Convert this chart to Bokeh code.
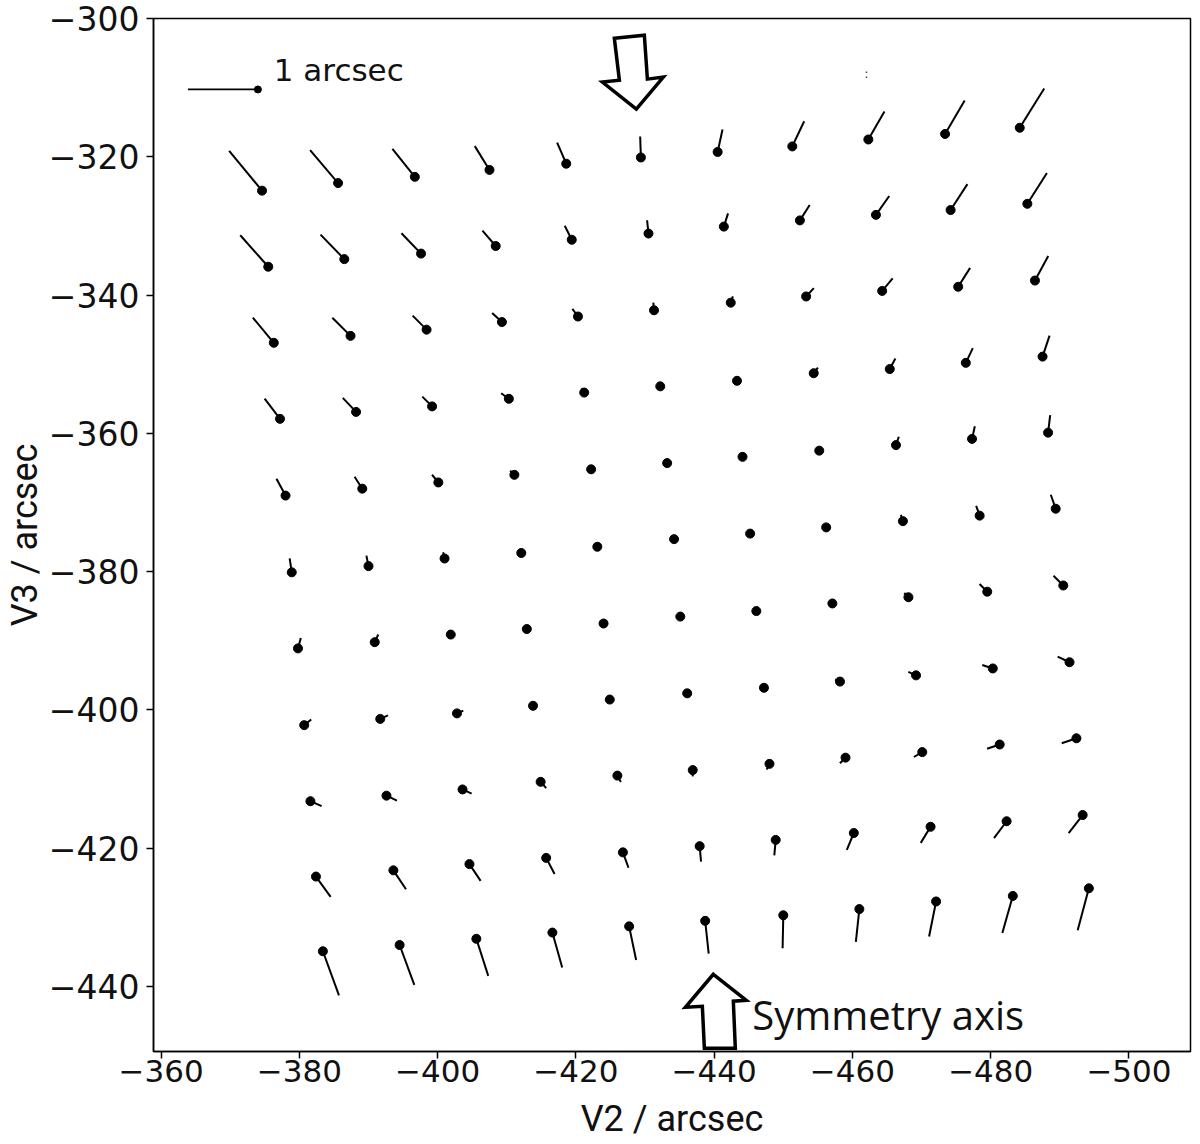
import numpy as np
from bokeh.plotting import figure
from bokeh.models import Range1d, FixedTicker, Label, CustomJSTickFormatter
from bokeh.embed import file_html
from bokeh.resources import INLINE

# ---------------- data ----------------
# dot positions: V2 (arcsec), rows from top to bottom, 11 columns each
V2_ROWS = [
    [-374.6, -385.6, -396.7, -407.5, -418.6, -429.4, -440.5, -451.3, -462.3, -473.4, -484.2],
    [-375.5, -386.5, -397.6, -408.4, -419.4, -430.5, -441.4, -452.4, -463.4, -474.2, -485.3],
    [-376.3, -387.4, -398.4, -409.3, -420.3, -431.3, -442.4, -453.3, -464.3, -475.3, -486.4],
    [-377.2, -388.2, -399.2, -410.3, -421.2, -432.2, -443.3, -454.4, -465.4, -476.4, -487.5],
    [-378.0, -389.1, -400.1, -411.1, -422.2, -433.2, -444.1, -455.2, -466.3, -477.3, -488.3],
    [-378.9, -390.0, -401.0, -412.1, -423.1, -434.2, -445.2, -456.2, -467.3, -478.4, -489.4],
    [-379.8, -390.9, -401.9, -412.9, -424.0, -435.1, -446.1, -457.1, -468.1, -479.5, -490.5],
    [-380.7, -391.7, -402.8, -413.8, -424.9, -436.1, -447.2, -458.2, -469.2, -480.3, -491.4],
    [-381.6, -392.6, -403.6, -414.9, -426.0, -436.9, -448.0, -459.0, -470.1, -481.3, -492.4],
    [-382.4, -393.6, -404.6, -415.7, -426.8, -437.9, -448.9, -460.2, -471.3, -482.3, -493.3],
    [-383.4, -394.5, -405.6, -416.6, -427.7, -438.7, -450.0, -461.0, -472.1, -483.2, -494.2],
]
# dot positions: V3 (arcsec)
V3_ROWS = [
    [-324.9, -323.8, -322.9, -321.9, -321.0, -320.1, -319.3, -318.5, -317.5, -316.7, -315.8],
    [-335.9, -334.8, -334.0, -332.9, -332.0, -331.1, -330.1, -329.2, -328.4, -327.7, -326.8],
    [-346.9, -345.9, -345.0, -343.9, -343.1, -342.2, -341.1, -340.2, -339.4, -338.8, -337.9],
    [-357.9, -356.9, -356.1, -355.0, -354.1, -353.2, -352.4, -351.3, -350.7, -349.8, -348.9],
    [-369.0, -368.0, -367.1, -366.0, -365.2, -364.3, -363.4, -362.5, -361.7, -360.8, -359.9],
    [-380.1, -379.2, -378.1, -377.3, -376.4, -375.3, -374.5, -373.6, -372.7, -371.9, -370.9],
    [-391.1, -390.2, -389.1, -388.3, -387.5, -386.5, -385.7, -384.6, -383.7, -382.9, -382.0],
    [-402.2, -401.3, -400.5, -399.4, -398.5, -397.6, -396.8, -395.9, -395.0, -394.0, -393.1],
    [-413.2, -412.4, -411.5, -410.4, -409.5, -408.7, -407.8, -406.9, -406.1, -405.0, -404.1],
    [-424.1, -423.2, -422.3, -421.4, -420.6, -419.7, -418.8, -417.8, -416.9, -416.1, -415.2],
    [-434.9, -434.0, -433.1, -432.2, -431.3, -430.5, -429.7, -428.8, -427.7, -426.9, -425.8],
]
# distortion vectors, V2 component (arcsec)
DV2_ROWS = [
    [0.47, 0.40, 0.32, 0.21, 0.13, 0.01, -0.07, -0.17, -0.23, -0.28, -0.35],
    [0.40, 0.34, 0.28, 0.19, 0.10, 0.02, -0.06, -0.14, -0.19, -0.24, -0.28],
    [0.30, 0.26, 0.20, 0.14, 0.08, 0.01, -0.03, -0.11, -0.15, -0.17, -0.19],
    [0.22, 0.19, 0.14, 0.11, 0.04, 0.00, -0.02, -0.06, -0.08, -0.10, -0.10],
    [0.13, 0.11, 0.09, 0.06, 0.01, 0.00, 0.00, -0.02, -0.04, -0.04, -0.03],
    [0.03, 0.03, 0.02, 0.00, 0.00, 0.00, 0.00, 0.00, 0.03, 0.05, 0.07],
    [-0.04, -0.05, -0.01, 0.00, 0.00, 0.00, 0.00, 0.01, 0.06, 0.11, 0.14],
    [-0.10, -0.11, -0.09, -0.02, 0.00, 0.00, 0.00, 0.07, 0.11, 0.15, 0.17],
    [-0.16, -0.15, -0.13, -0.08, -0.05, 0.00, 0.04, 0.08, 0.12, 0.18, 0.21],
    [-0.21, -0.18, -0.16, -0.12, -0.08, -0.02, 0.02, 0.10, 0.14, 0.18, 0.20],
    [-0.23, -0.21, -0.17, -0.14, -0.10, -0.05, 0.01, 0.05, 0.10, 0.15, 0.16],
]
# distortion vectors, V3 component (arcsec)
DV3_ROWS = [
    [0.57, 0.47, 0.40, 0.34, 0.30, 0.30, 0.32, 0.36, 0.40, 0.48, 0.56],
    [0.45, 0.35, 0.29, 0.22, 0.20, 0.19, 0.19, 0.22, 0.27, 0.37, 0.44],
    [0.36, 0.26, 0.20, 0.13, 0.11, 0.11, 0.09, 0.12, 0.18, 0.27, 0.35],
    [0.29, 0.20, 0.14, 0.08, 0.06, 0.02, 0.06, 0.08, 0.15, 0.21, 0.30],
    [0.24, 0.17, 0.11, 0.06, 0.01, 0.00, 0.00, 0.06, 0.12, 0.18, 0.25],
    [0.20, 0.15, 0.09, 0.01, 0.00, 0.00, 0.00, -0.01, 0.09, 0.14, 0.20],
    [0.15, 0.11, 0.01, 0.00, 0.00, 0.00, 0.00, 0.01, 0.06, 0.11, 0.14],
    [0.08, 0.05, 0.04, 0.01, 0.00, 0.00, 0.00, 0.03, 0.05, 0.05, 0.08],
    [-0.07, -0.07, -0.06, -0.09, -0.09, -0.09, -0.08, -0.08, -0.07, -0.06, -0.07],
    [-0.29, -0.27, -0.24, -0.23, -0.22, -0.22, -0.22, -0.24, -0.23, -0.24, -0.26],
    [-0.63, -0.57, -0.53, -0.50, -0.48, -0.47, -0.47, -0.47, -0.50, -0.53, -0.60],
]

ARCSEC_SCALE = 10.12          # plot units drawn per arcsec of distortion
KEY_V2, KEY_V3 = -374.0, -310.26
KEY_DV2, KEY_DV3 = [1.0], [0.0]
KEY_TEXT = "1 arcsec"

X_TICKS = [-360, -380, -400, -420, -440, -460, -480, -500]
Y_TICKS = [-300, -320, -340, -360, -380, -400, -420, -440]
X_LABEL = "V2 / arcsec"
Y_LABEL = "V3 / arcsec"

# hollow block arrows marking the symmetry axis (corner points, plot units)
DOWN_ARROW_V2 = [-425.56, -429.90, -430.34, -432.65, -428.74, -423.83, -426.29]
DOWN_ARROW_V3 = [-302.85, -302.41, -308.77, -308.48, -313.11, -309.20, -308.92]
UP_ARROW_V2 = [-439.88, -444.65, -442.77, -443.06, -438.58, -438.29, -435.83]
UP_ARROW_V3 = [-438.23, -441.99, -442.13, -448.92, -448.92, -442.86, -443.00]
SYM_TEXT = "Symmetry axis"

# ---------------- figure ----------------
v2 = np.array(V2_ROWS).ravel()
v3 = np.array(V3_ROWS).ravel()
dv2 = np.array(DV2_ROWS).ravel()
dv3 = np.array(DV3_ROWS).ravel()

p = figure(width=1192, height=1142, output_backend="svg", toolbar_location=None,
           x_range=Range1d(-358.9, -508.9), y_range=Range1d(-449.4, -300.0),
           min_border_left=153, min_border_right=2, min_border_top=18,
           min_border_bottom=90)
p.grid.visible = False
p.outline_line_color = "black"
p.outline_line_width = 1.5
p.background_fill_color = "white"
p.border_fill_color = "white"

fmt = CustomJSTickFormatter(code="return (tick < 0 ? '\\u2212' : '') + Math.abs(tick).toFixed(0);")
for ax, ticks, size, stand in ((p.xaxis[0], X_TICKS, "31px", 1), (p.yaxis[0], Y_TICKS, "33px", 7)):
    ax.ticker = FixedTicker(ticks=ticks)
    ax.formatter = fmt
    ax.minor_tick_line_color = None
    ax.major_tick_in = 0
    ax.major_tick_out = 7
    ax.major_tick_line_width = 1.5
    ax.major_tick_line_color = "black"
    ax.axis_line_color = "black"
    ax.axis_line_width = 1.5
    ax.major_label_text_font = "DejaVu Sans"
    ax.major_label_text_font_size = size
    ax.major_label_text_color = "#111111"
    ax.major_label_standoff = stand
    ax.axis_label_text_font = "Roboto"
    ax.axis_label_text_font_size = "36px"
    ax.axis_label_text_font_style = "normal"
    ax.axis_label_text_color = "#111111"

p.xaxis.axis_label = X_LABEL
p.yaxis.axis_label = Y_LABEL
p.xaxis.axis_label_standoff = 13
p.yaxis.axis_label_standoff = 0
p.yaxis.major_label_orientation = "horizontal"

# distortion vectors
p.segment(x0=v2, y0=v3, x1=v2 + dv2 * ARCSEC_SCALE, y1=v3 + dv3 * ARCSEC_SCALE,
          line_color="black", line_width=2)
p.scatter(v2, v3, size=9, color="black")

# scale key
kx = np.array([KEY_V2])
ky = np.array([KEY_V3])
p.segment(x0=kx, y0=ky, x1=kx + np.array(KEY_DV2) * ARCSEC_SCALE,
          y1=ky + np.array(KEY_DV3) * ARCSEC_SCALE, line_color="black", line_width=1.8)
p.scatter(kx, ky, size=7, color="black")
p.add_layout(Label(x=KEY_V2 - 2.3, y=KEY_V3 + 2.8, text=KEY_TEXT,
                   text_font="DejaVu Sans", text_font_size="31px",
                   text_color="#111111", text_baseline="alphabetic"))

# symmetry-axis arrows
p.patch(DOWN_ARROW_V2, DOWN_ARROW_V3, fill_color="white", line_color="black",
        line_width=3.5, line_join="miter")
p.patch(UP_ARROW_V2, UP_ARROW_V3, fill_color="white", line_color="black",
        line_width=3.5, line_join="miter")
p.add_layout(Label(x=-445.5, y=-444.1, text=SYM_TEXT, text_font="Open Sans",
                   text_font_size="40px", text_color="#111111",
                   text_baseline="alphabetic"))
# small stray mark near the top
p.add_layout(Label(x=-461.7, y=-308.0, text=":", text_font="DejaVu Sans",
                   text_font_size="13px", text_color="#333333",
                   text_baseline="alphabetic"))

open("out.html", "w").write(file_html(p, INLINE))
